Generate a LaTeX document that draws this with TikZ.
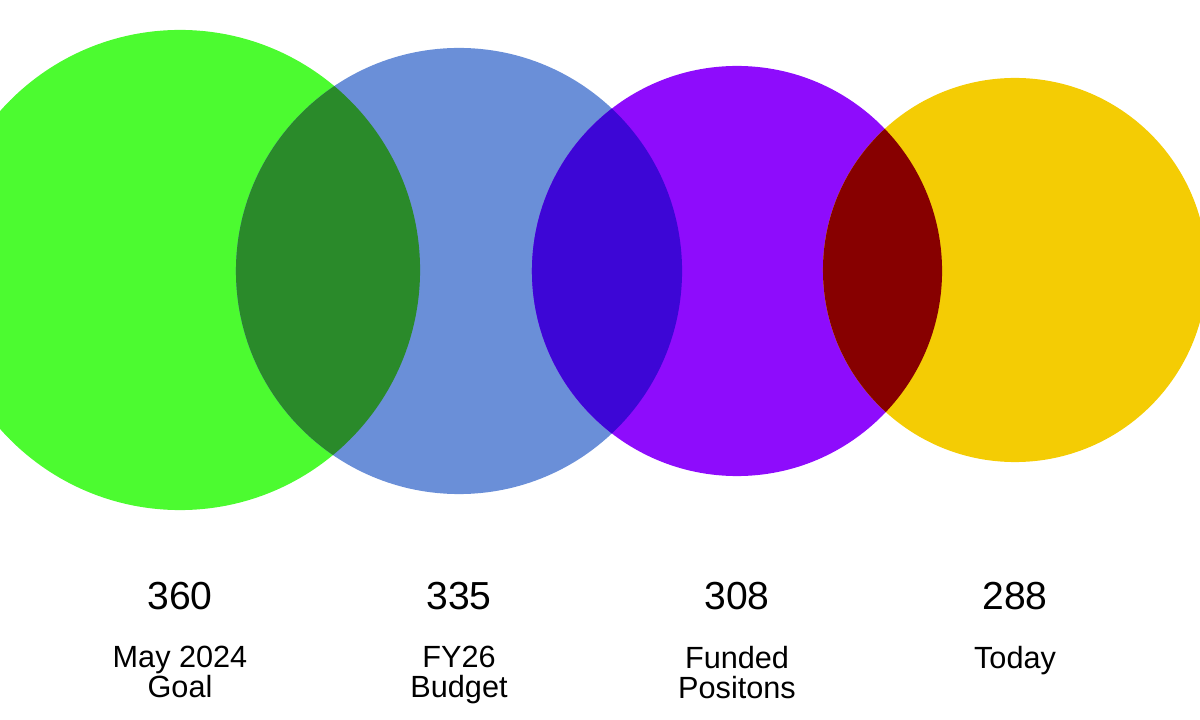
\documentclass[tikz,border=0pt]{standalone}
\usepackage{fontspec}
\setmainfont{Liberation Sans}
\usetikzlibrary{positioning}

\definecolor{goalgreen}{HTML}{4CFB30}
\definecolor{budgetblue}{HTML}{6A8FD8}
\definecolor{fundedpurple}{HTML}{8E0CFC}
\definecolor{todayyellow}{HTML}{F4CC04}
\definecolor{greenblue}{HTML}{2A8A2A}
\definecolor{bluepurple}{HTML}{3D06D6}
\definecolor{purpleyellow}{HTML}{870000}

\tikzset{
  numtext/.style={inner sep=0pt, anchor=base, font=\fontsize{27.8}{33}\selectfont},
  labtext/.style={inner sep=0pt, align=center, font=\fontsize{21.8}{21.3}\selectfont},
}

\begin{document}
\begin{tikzpicture}[x=0.025cm,y=-0.025cm]
 \useasboundingbox (0,0) rectangle (1200,720);
 \coordinate (goal) at (180,270);
 \coordinate (budget) at (459,271);
 \coordinate (funded) at (737,271);
 \coordinate (today) at (1015,270);
 \begin{scope}
  \clip (0,0) rectangle (1200,720);
  \fill[goalgreen] (goal) circle[radius=6cm];
  \fill[budgetblue] (budget) circle[radius=5.575cm];
  \fill[fundedpurple] (funded) circle[radius=5.125cm];
  \fill[todayyellow] (today) circle[radius=4.8cm];
  % overlaps
  \begin{scope}
   \clip (goal) circle[radius=6cm];
   \fill[greenblue] (budget) circle[radius=5.575cm];
  \end{scope}
  \begin{scope}
   \clip (budget) circle[radius=5.575cm];
   \fill[bluepurple] (funded) circle[radius=5.125cm];
  \end{scope}
  \begin{scope}
   \clip (funded) circle[radius=5.125cm];
   \fill[purpleyellow] (today) circle[radius=4.8cm];
  \end{scope}
 \end{scope}

 \node[numtext] (n360) at (180,609) {360};
 \node[numtext] (n335) at (459,609) {335};
 \node[numtext] (n308) at (737,609) {308};
 \node[numtext] (n288) at (1015,609) {288};
 \node[labtext, below=0.9cm of n360] (goallab) {May 2024\\Goal};
 \node[labtext, below=0.9cm of n335] (budgetlab) {FY26\\Budget};
 \node[labtext, below=0.9cm of n308] (fundedlab) {Funded\\Positons};
 \node[labtext, below=0.9cm of n288] (todaylab) {Today};
\end{tikzpicture}
\end{document}
